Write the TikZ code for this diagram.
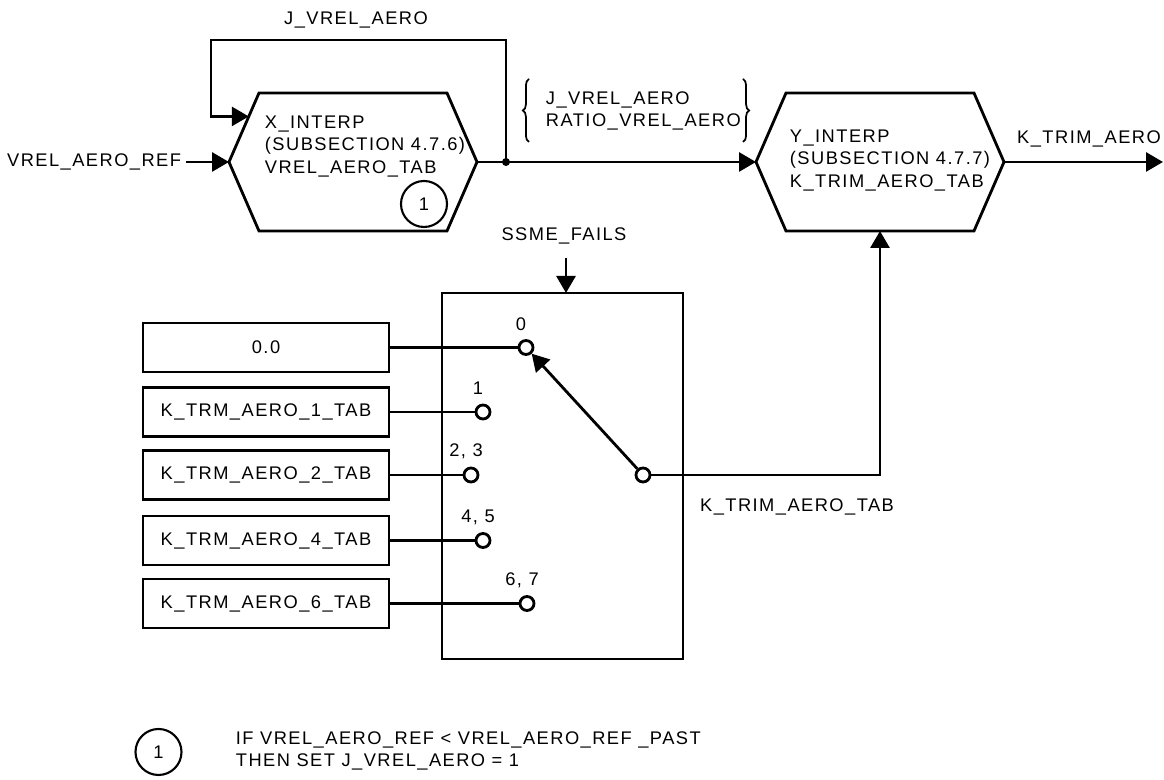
\documentclass[tikz,border=0pt]{standalone}
\usepackage{fontspec}
\setmainfont{Liberation Sans}[LetterSpace=8]
\usetikzlibrary{arrows.meta, positioning, calc, decorations.pathreplacing}

\begin{document}
\begin{tikzpicture}[font=\fontsize{10.4}{12.8}\selectfont, line width=1.6pt,
        >={Triangle[length=0.34cm, width=0.38cm]},
        lbl/.style={inner sep=2pt},
        hexcore/.style={minimum width=3.76cm, minimum height=2.76cm, inner sep=0pt, outer sep=0pt},
        tabbox/.style={draw, minimum width=4.92cm, minimum height=0.98cm, inner sep=0pt, outer sep=0pt},
        contact/.style={circle, draw, fill=white, minimum size=0.28cm, inner sep=0pt},
        numcirc/.style={circle, draw, minimum size=0.92cm, inner sep=0pt, line width=1.2pt}]
        \useasboundingbox (0,0) rectangle (23.28,15.6);

        % interpolation blocks
        \node[hexcore] (xint) at (7.06,12.36) {};
        \node[hexcore] (yint) at (17.6,12.36) {};
        \foreach \h in {xint, yint}
        {
            \draw (\h.north west) -- (\h.north east) -- ($(\h.east)+(0.6,0)$) coordinate (\h-out)
                -- (\h.south east) -- (\h.south west) -- ($(\h.west)+(-0.6,0)$) coordinate (\h-in) -- cycle;
        }
        \node[lbl, anchor=west, align=left] (xtxt) at (5.2,12.67) {X\_INTERP\\(SUBSECTION 4.7.6)\\VREL\_AERO\_TAB};
        \node[lbl, anchor=west, align=left] (ytxt) at (15.7,12.39) {Y\_INTERP\\(SUBSECTION 4.7.7)\\K\_TRIM\_AERO\_TAB};
        \node[numcirc] (xnote) at (8.48,11.52) {1};

        % input, feedback and bus
        \node[lbl, anchor=east] (vref) at (3.72,12.36) {VREL\_AERO\_REF};
        \draw[->] (vref.east) -- (xint-in);
        \coordinate (jct) at (10.12,12.36);
        \coordinate (loop) at (4.22,14.8);
        \fill (jct) circle (0.08);
        \draw[->] (xint-out) -- (yint-in);
        \draw[->] (jct) |- (loop) |- ($(xint-in)!0.66!(xint.north west)$);
        \node[lbl] (jlab) at (7.12,15.21) {J\_VREL\_AERO};
        \node[lbl, anchor=west, align=left] (blist) at (10.82,13.38) {J\_VREL\_AERO\\RATIO\_VREL\_AERO};
        \draw[line width=1pt, decorate, decoration={brace, amplitude=3.5pt}] (10.58,12.76) -- (10.58,14.02);
        \draw[line width=1pt, decorate, decoration={brace, amplitude=3.5pt}] (14.86,14.02) -- (14.86,12.76);

        % output
        \coordinate (kout) at (23.26,12.36);
        \draw[->] (yint-out) -- (kout);
        \node[lbl] (klab) at (21.78,12.82) {K\_TRIM\_AERO};

        % selector switch
        \node[draw, minimum width=4.82cm, minimum height=7.32cm, inner sep=0pt, outer sep=0pt, anchor=north west] (sw) at (8.84,9.74) {};
        \node[lbl] (ssme) at (11.28,10.88) {SSME\_FAILS};
        \coordinate (ssin) at (11.32,10.44);
        \draw[->] (ssin) -- (ssin |- sw.north);
        \foreach \n/\y/\cx/\txt/\lab in {
            0/8.65/10.52/{0.0}/{0},
            1/7.36/9.66/{K\_TRM\_AERO\_1\_TAB}/{1},
            2/6.1/9.42/{K\_TRM\_AERO\_2\_TAB}/{2, 3},
            4/4.79/9.66/{K\_TRM\_AERO\_4\_TAB}/{4, 5},
            6/3.53/10.54/{K\_TRM\_AERO\_6\_TAB}/{6, 7}}
        {
            \node[tabbox] (tab\n) at (5.32,\y) {\txt};
            \node[contact] (pos\n) at (\cx,\y) {};
            \node[lbl] (lab\n) at ($(pos\n)+(-0.1,0.47)$) {\lab};
            \draw (tab\n) -- (pos\n);
        }
        \node[contact] (pivot) at (12.86,6.1) {};
        \draw[->] (pivot) -- (pos0);
        \draw[->] (pivot) -| (yint.south);
        \node[lbl] (tablab) at (15.94,5.46) {K\_TRIM\_AERO\_TAB};

        % note
        \node[numcirc] (note) at (3.17,0.56) {1};
        \node[lbl, anchor=west, align=left] (notetxt) at (4.62,0.58) {IF VREL\_AERO\_REF < VREL\_AERO\_REF \_PAST\\THEN SET J\_VREL\_AERO = 1};
    \end{tikzpicture}
\end{document}
